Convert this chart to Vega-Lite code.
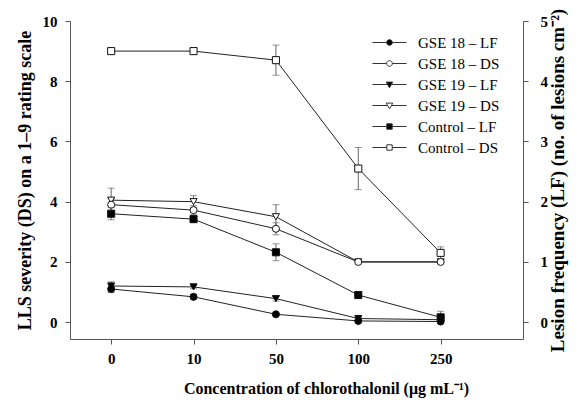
{
  "$schema": "https://vega.github.io/schema/vega-lite/v6.json",
  "width": 453,
  "height": 318,
  "autosize": {"type": "none"},
  "padding": {"left": 70, "top": 21, "right": 64, "bottom": 63},
  "background": "white",
  "config": {
    "view": {"stroke": null},
    "font": "Liberation Serif",
    "axis": {
      "domainColor": "#555", "tickColor": "#555", "grid": false, "tickSize": 5,
      "labelFont": "Liberation Serif", "labelFontWeight": "bold", "labelFontSize": 15, "labelColor": "black",
      "titleFont": "Liberation Serif", "titleFontWeight": "bold", "titleFontSize": 16, "titleColor": "black"
    },
    "legend": {
      "labelFont": "Liberation Serif", "labelFontSize": 15, "labelColor": "black",
      "symbolSize": 36, "symbolStrokeWidth": 1, "labelOffset": 21, "rowPadding": 5
    }
  },
  "data": {
    "values": [
      {"idx": 0, "conc": "0", "grp": "Control", "measure": "DS", "series": "Control – DS", "v": 9.0, "err": 0},
      {"idx": 1, "conc": "10", "grp": "Control", "measure": "DS", "series": "Control – DS", "v": 9.0, "err": 0},
      {"idx": 2, "conc": "50", "grp": "Control", "measure": "DS", "series": "Control – DS", "v": 8.7, "err": 0.5},
      {"idx": 3, "conc": "100", "grp": "Control", "measure": "DS", "series": "Control – DS", "v": 5.1, "err": 0.7},
      {"idx": 4, "conc": "250", "grp": "Control", "measure": "DS", "series": "Control – DS", "v": 2.3, "err": 0.2},
      {"idx": 0, "conc": "0", "grp": "GSE 19", "measure": "DS", "series": "GSE 19 – DS", "v": 4.05, "err": 0.4},
      {"idx": 1, "conc": "10", "grp": "GSE 19", "measure": "DS", "series": "GSE 19 – DS", "v": 4.0, "err": 0.2},
      {"idx": 2, "conc": "50", "grp": "GSE 19", "measure": "DS", "series": "GSE 19 – DS", "v": 3.5, "err": 0.4},
      {"idx": 3, "conc": "100", "grp": "GSE 19", "measure": "DS", "series": "GSE 19 – DS", "v": 2.0, "err": 0},
      {"idx": 4, "conc": "250", "grp": "GSE 19", "measure": "DS", "series": "GSE 19 – DS", "v": 2.0, "err": 0},
      {"idx": 0, "conc": "0", "grp": "GSE 18", "measure": "DS", "series": "GSE 18 – DS", "v": 3.9, "err": 0.2},
      {"idx": 1, "conc": "10", "grp": "GSE 18", "measure": "DS", "series": "GSE 18 – DS", "v": 3.72, "err": 0.15},
      {"idx": 2, "conc": "50", "grp": "GSE 18", "measure": "DS", "series": "GSE 18 – DS", "v": 3.1, "err": 0.2},
      {"idx": 3, "conc": "100", "grp": "GSE 18", "measure": "DS", "series": "GSE 18 – DS", "v": 2.0, "err": 0},
      {"idx": 4, "conc": "250", "grp": "GSE 18", "measure": "DS", "series": "GSE 18 – DS", "v": 2.0, "err": 0.05},
      {"idx": 0, "conc": "0", "grp": "Control", "measure": "LF", "series": "Control – LF", "v": 1.8, "err": 0.1},
      {"idx": 1, "conc": "10", "grp": "Control", "measure": "LF", "series": "Control – LF", "v": 1.71, "err": 0.05},
      {"idx": 2, "conc": "50", "grp": "Control", "measure": "LF", "series": "Control – LF", "v": 1.16, "err": 0.14},
      {"idx": 3, "conc": "100", "grp": "Control", "measure": "LF", "series": "Control – LF", "v": 0.45, "err": 0.05},
      {"idx": 4, "conc": "250", "grp": "Control", "measure": "LF", "series": "Control – LF", "v": 0.08, "err": 0.1},
      {"idx": 0, "conc": "0", "grp": "GSE 19", "measure": "LF", "series": "GSE 19 – LF", "v": 0.6, "err": 0.07},
      {"idx": 1, "conc": "10", "grp": "GSE 19", "measure": "LF", "series": "GSE 19 – LF", "v": 0.585, "err": 0.03},
      {"idx": 2, "conc": "50", "grp": "GSE 19", "measure": "LF", "series": "GSE 19 – LF", "v": 0.39, "err": 0.04},
      {"idx": 3, "conc": "100", "grp": "GSE 19", "measure": "LF", "series": "GSE 19 – LF", "v": 0.06, "err": 0.02},
      {"idx": 4, "conc": "250", "grp": "GSE 19", "measure": "LF", "series": "GSE 19 – LF", "v": 0.04, "err": 0.02},
      {"idx": 0, "conc": "0", "grp": "GSE 18", "measure": "LF", "series": "GSE 18 – LF", "v": 0.55, "err": 0.06},
      {"idx": 1, "conc": "10", "grp": "GSE 18", "measure": "LF", "series": "GSE 18 – LF", "v": 0.42, "err": 0.04},
      {"idx": 2, "conc": "50", "grp": "GSE 18", "measure": "LF", "series": "GSE 18 – LF", "v": 0.13, "err": 0.02},
      {"idx": 3, "conc": "100", "grp": "GSE 18", "measure": "LF", "series": "GSE 18 – LF", "v": 0.02, "err": 0.01},
      {"idx": 4, "conc": "250", "grp": "GSE 18", "measure": "LF", "series": "GSE 18 – LF", "v": 0.01, "err": 0.01}
    ]
  },
  "encoding": {
    "x": {
      "field": "idx", "type": "quantitative",
      "scale": {"domain": [-0.5, 5], "nice": false, "zero": false},
      "axis": {
        "values": [0, 1, 2, 3, 4],
        "labelExpr": "['0','10','50','100','250'][datum.value]",
        "labelPadding": 7, "titlePadding": 14, "titleX": 256, "titleAlign": "center", "titleAnchor": "start",
        "title": "Concentration of chlorothalonil (μg mL⁻¹)"
      }
    }
  },
  "layer": [
    {
      "transform": [{"filter": "datum.measure === 'DS'"}],
      "encoding": {
        "y": {
          "field": "v", "type": "quantitative",
          "scale": {"domain": [-0.56, 10], "nice": false, "zero": false},
          "axis": {"orient": "left", "values": [0, 2, 4, 6, 8, 10], "labelPadding": 8, "titlePadding": 8, "titleFontSize": 18,
                   "title": "LLS severity (DS) on a 1–9 rating scale"}
        }
      },
      "layer": [
        {
          "transform": [{"filter": "datum.err > 0"}],
          "mark": {"type": "errorbar", "ticks": {"size": 7}, "color": "#666", "thickness": 1},
          "encoding": {"yError": {"field": "err"}}
        },
        {
          "mark": {"type": "line", "color": "#222", "strokeWidth": 1},
          "encoding": {"detail": {"field": "grp"}}
        },
        {
          "mark": {"type": "point", "size": 50, "stroke": "#111", "strokeWidth": 1, "fill": "white", "opacity": 1, "filled": false},
          "encoding": {
            "shape": {"field": "grp", "type": "nominal", "legend": null,
                      "scale": {"domain": ["GSE 18", "GSE 19", "Control"], "range": ["circle", "triangle-down", "square"]}}
          }
        }
      ]
    },
    {
      "transform": [{"filter": "datum.measure === 'LF'"}],
      "encoding": {
        "y": {
          "field": "v", "type": "quantitative",
          "scale": {"domain": [-0.28, 5], "nice": false, "zero": false},
          "axis": {"orient": "right", "values": [0, 1, 2, 3, 4, 5], "labelPadding": 12, "titlePadding": 20, "titleAngle": 270, "titleFontSize": 19,
                   "title": "Lesion frequency (LF) (no. of lesions cm⁻²)"}
        }
      },
      "layer": [
        {
          "transform": [{"filter": "datum.err > 0"}],
          "mark": {"type": "errorbar", "ticks": {"size": 7}, "color": "#666", "thickness": 1},
          "encoding": {"yError": {"field": "err"}}
        },
        {
          "mark": {"type": "line", "color": "#222", "strokeWidth": 1},
          "encoding": {"detail": {"field": "grp"}}
        },
        {
          "mark": {"type": "point", "size": 50, "stroke": "#111", "strokeWidth": 1, "fill": "black", "opacity": 1, "filled": false},
          "encoding": {
            "shape": {"field": "grp", "type": "nominal", "legend": null,
                      "scale": {"domain": ["GSE 18", "GSE 19", "Control"], "range": ["circle", "triangle-down", "square"]}}
          }
        }
      ]
    },
    {
      "transform": [{"filter": "datum.v > 1000"}],
      "mark": {"type": "point", "stroke": "#333", "strokeWidth": 1, "opacity": 1, "filled": false},
      "encoding": {
        "shape": {
          "field": "series", "type": "nominal",
          "scale": {
            "domain": ["GSE 18 – LF", "GSE 18 – DS", "GSE 19 – LF", "GSE 19 – DS", "Control – LF", "Control – DS"],
            "range": [
              "M-5.67,0H-0.95M0.95,0H5.67M0.95,0A0.95,0.95 0 1 1 -0.95,0A0.95,0.95 0 1 1 0.95,0Z",
              "M-5.67,0H-0.95M0.95,0H5.67M0.95,0A0.95,0.95 0 1 1 -0.95,0A0.95,0.95 0 1 1 0.95,0Z",
              "M-5.67,0H-0.64M0.64,0H5.67M-1.1,-0.8L1.1,-0.8L0,1.1Z",
              "M-5.67,0H-0.64M0.64,0H5.67M-1.1,-0.8L1.1,-0.8L0,1.1Z",
              "M-5.67,0H-0.9M0.9,0H5.67M-0.9,-0.9H0.9V0.9H-0.9Z",
              "M-5.67,0H-0.9M0.9,0H5.67M-0.9,-0.9H0.9V0.9H-0.9Z"
            ]
          },
          "legend": {"title": null, "orient": "none", "legendX": 312, "legendY": 14}
        },
        "fill": {
          "field": "series", "type": "nominal",
          "scale": {
            "domain": ["GSE 18 – LF", "GSE 18 – DS", "GSE 19 – LF", "GSE 19 – DS", "Control – LF", "Control – DS"],
            "range": ["black", "white", "black", "white", "black", "white"]
          },
          "legend": {"title": null, "orient": "none", "legendX": 312, "legendY": 14}
        }
      }
    }
  ],
  "resolve": {"scale": {"y": "independent", "shape": "independent", "fill": "independent"}}
}
